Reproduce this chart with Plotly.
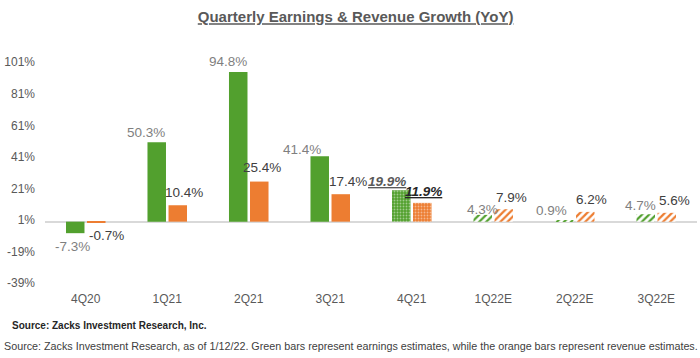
import plotly.graph_objects as go

categories = ["4Q20", "1Q21", "2Q21", "3Q21", "4Q21", "1Q22E", "2Q22E", "3Q22E"]
earnings = [-7.3, 50.3, 94.8, 41.4, 19.9, 4.3, 0.9, 4.7]
revenue = [-0.7, 10.4, 25.4, 17.4, 11.9, 7.9, 6.2, 5.6]
earn_labels = ["-7.3%", "50.3%", "94.8%", "41.4%", "19.9%", "4.3%", "0.9%", "4.7%"]
rev_labels = ["-0.7%", "10.4%", "25.4%", "17.4%", "11.9%", "7.9%", "6.2%", "5.6%"]
tick_vals = [-39, -19, 1, 21, 41, 61, 81, 101]
tick_text = ["-39%", "-19%", "1%", "21%", "41%", "61%", "81%", "101%"]
kinds = ["actual", "actual", "actual", "actual", "partial", "est", "est", "est"]

GREEN = "#52a02e"
ORANGE = "#ed7d31"
FONT = "Arial, Liberation Sans, sans-serif"

# label offsets (pixels) relative to bar anchor
earn_dx = [-13, -21, -21, -28, -24.5, -11, -23.5, -16]
earn_dy = [-13.5, 9.6, 10.4, 6.4, 8.3, 5, 10, 9]
rev_dx = [21, 16.5, 13, 18, 11.5, 18.7, 17, 18]
rev_dy = [-13, 13, 13.6, 13, 11, 11.5, 12.6, 12]


def patterns(color):
    shapes, fg, bg, sol, size = [], [], [], [], []
    for k in kinds:
        if k == "actual":
            shapes.append(""); fg.append(color); bg.append(color); sol.append(0.3); size.append(6)
        elif k == "partial":
            shapes.append("."); fg.append("rgba(255,255,255,0.45)"); bg.append(color); sol.append(0.3); size.append(3)
        else:
            shapes.append("/"); fg.append(color); bg.append("white"); sol.append(0.45); size.append(5)
    return dict(shape=shapes, fgcolor=fg, bgcolor=bg, solidity=sol, size=size, fillmode="replace")


fig = go.Figure()
fig.add_trace(go.Bar(x=categories, y=earnings, name="Earnings",
                     marker=dict(color=GREEN, line=dict(width=0), pattern=patterns(GREEN))))
fig.add_trace(go.Bar(x=categories, y=revenue, name="Revenue",
                     marker=dict(color=ORANGE, line=dict(width=0), pattern=patterns(ORANGE))))

annotations = []
for i, c in enumerate(categories):
    for val, lab, dx, dy, series in ((earnings[i], earn_labels[i], earn_dx[i], earn_dy[i], "e"),
                                     (revenue[i], rev_labels[i], rev_dx[i], rev_dy[i], "r")):
        if kinds[i] == "partial":
            txt = "<b><i><u>%s</u></i></b>" % lab
            col = "#595959" if series == "e" else "#262626"
        else:
            txt = lab
            col = "#7f7f7f" if series == "e" else "#404040"
        annotations.append(dict(x=c, y=val, xref="x", yref="y", text=txt, showarrow=False,
                                xshift=dx, yshift=dy, xanchor="center", yanchor="middle",
                                font=dict(family=FONT, size=13.5, color=col)))

annotations.append(dict(x=-0.0537, y=-0.149, xref="paper", yref="paper", xanchor="left", yanchor="middle",
                        text="<b>Source: Zacks Investment Research, Inc.</b>", showarrow=False,
                        font=dict(family=FONT, size=10, color="#262626")))
annotations.append(dict(x=-0.066, y=-0.238, xref="paper", yref="paper", xanchor="left", yanchor="middle",
                        text="Source: Zacks Investment Research, as of 1/12/22. Green bars represent earnings estimates, while the orange bars represent revenue estimates.",
                        showarrow=False, font=dict(family=FONT, size=10.75, color="#404040")))

fig.update_layout(
    width=700, height=358,
    margin=dict(l=45, r=3, t=55, b=68),
    paper_bgcolor="white", plot_bgcolor="white",
    barmode="group", bargap=0.484, bargroupgap=0.12,
    showlegend=False,
    title=dict(text="<b><u>Quarterly Earnings & Revenue Growth (YoY)</u></b>",
               x=0.508, xref="container", xanchor="center",
               y=1 - 17 / 358, yref="container", yanchor="middle",
               font=dict(family=FONT, size=15, color="#595959")),
    annotations=annotations,
    font=dict(family=FONT),
)
fig.update_xaxes(showgrid=False, showline=False, ticks="",
                 tickfont=dict(family=FONT, size=12, color="#595959"))
fig.update_yaxes(range=[-43.3, 105.6], tickvals=tick_vals, ticktext=tick_text,
                 showgrid=False, showline=False, zeroline=True, zerolinecolor="#d9d9d9",
                 zerolinewidth=1.5, ticks="", ticklabelstandoff=9,
                 tickfont=dict(family=FONT, size=12, color="#595959"))

fig.write_html("out.html")
